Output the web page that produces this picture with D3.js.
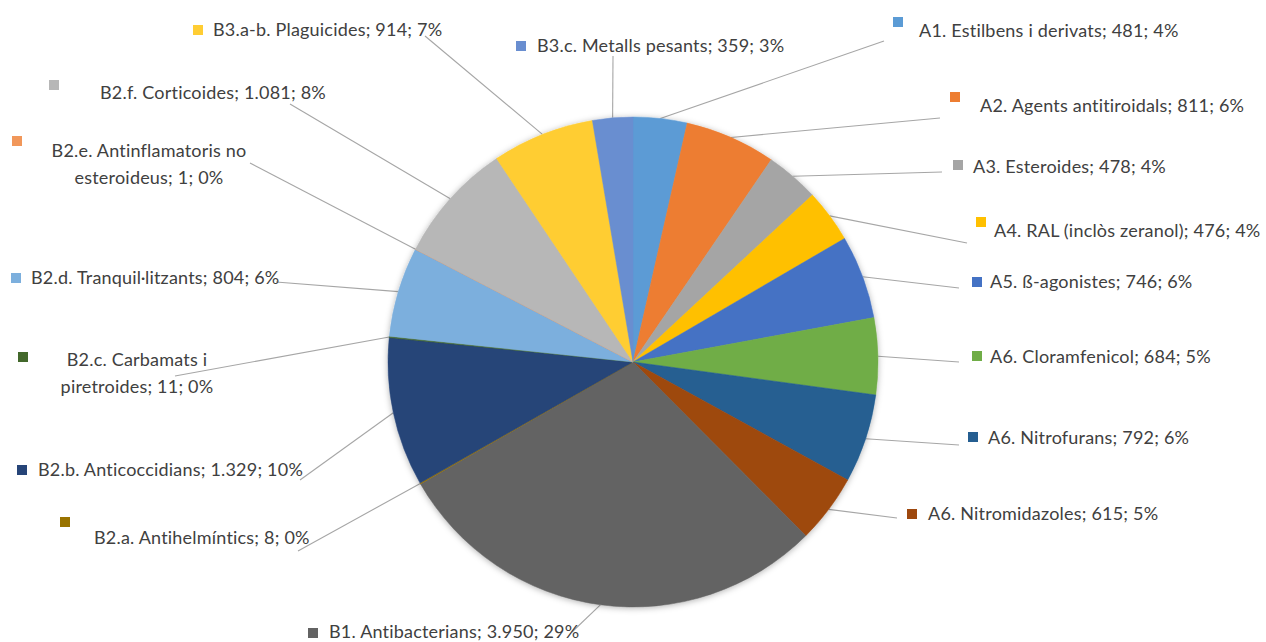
<!DOCTYPE html>
<html>
<head>
<meta charset="utf-8">
<script src="https://cdn.jsdelivr.net/npm/d3@7"></script>
<style>
  html, body { margin: 0; padding: 0; background: #fff; }
  svg text { font-family: Lato, "Open Sans", sans-serif; fill: #404040; letter-spacing: 0.2px; }
</style>
</head>
<body>
<div id="chart"></div>
<script>
// categories, clockwise from 12 o'clock
var categories = [
  "A1. Estilbens i derivats",
  "A2. Agents antitiroidals",
  "A3. Esteroides",
  "A4. RAL (inclòs zeranol)",
  "A5. ß-agonistes",
  "A6. Cloramfenicol",
  "A6. Nitrofurans",
  "A6. Nitromidazoles",
  "B1. Antibacterians",
  "B2.a. Antihelmíntics",
  "B2.b. Anticoccidians",
  "B2.c. Carbamats i|piretroides",
  "B2.d. Tranquil·litzants",
  "B2.e. Antinflamatoris no|esteroideus",
  "B2.f. Corticoides",
  "B3.a-b. Plaguicides",
  "B3.c. Metalls pesants"
];
var values = [481, 811, 478, 476, 746, 684, 792, 615, 3950, 8, 1329, 11, 804, 1, 1081, 914, 359];
var colors = ["#5B9BD5", "#ED7D31", "#A5A5A5", "#FFC000", "#4472C4", "#70AD47", "#255E91", "#9E480E",
              "#636363", "#997300", "#264478", "#43682B", "#7CAFDD", "#F1975A", "#B7B7B7", "#FFCD33", "#698ED0"];

// label placement (layout only): text x / centre y, marker centre, leader end, text anchor
var labelLayout = [
  {tx: 919, ty: 31,  mx: 898, my: 22,  ex: 884, ey: 41,  anchor: "start"},
  {tx: 980, ty: 106, mx: 955, my: 97,  ex: 940, ey: 118, anchor: "start"},
  {tx: 973, ty: 167, mx: 958, my: 165, ex: 942, ey: 172, anchor: "start"},
  {tx: 994, ty: 231, mx: 981, my: 222, ex: 967, ey: 243, anchor: "start"},
  {tx: 990, ty: 282, mx: 977, my: 282, ex: 959, ey: 288, anchor: "start"},
  {tx: 990, ty: 357, mx: 977, my: 356, ex: 959, ey: 362, anchor: "start"},
  {tx: 988, ty: 438, mx: 973, my: 437, ex: 959, ey: 445, anchor: "start"},
  {tx: 928, ty: 514, mx: 912, my: 514, ex: 897, ey: 518, anchor: "start"},
  {tx: 329, ty: 632, mx: 313, my: 633, ex: 572, ey: 632, anchor: "start"},
  {tx: 94,  ty: 538, mx: 65,  my: 522, ex: 298, ey: 551, anchor: "start"},
  {tx: 38,  ty: 470, mx: 22,  my: 470, ex: 300, ey: 480, anchor: "start"},
  {tx: 137, ty: 360, mx: 23,  my: 357, ex: 175, ey: 376, anchor: "middle"},
  {tx: 31,  ty: 278, mx: 16,  my: 278, ex: 276, ey: 282, anchor: "start"},
  {tx: 149, ty: 151, mx: 17,  my: 141, ex: 250, ey: 163, anchor: "middle"},
  {tx: 100, ty: 93,  mx: 54,  my: 85,  ex: 290, ey: 104, anchor: "start"},
  {tx: 213, ty: 30,  mx: 198, my: 30,  ex: 425, ey: 36,  anchor: "start"},
  {tx: 537, ty: 46,  mx: 521, my: 46,  ex: 613, ey: 56,  anchor: "start"}
];

var width = 1266, height = 642,
    cx = 633, cy = 362, radius = 245,
    fontSize = 18, lineGap = 27;

var total = d3.sum(values);
var numFmt = d3.formatLocale({decimal: ",", thousands: ".", grouping: [3], currency: ["", "€"]}).format(",d");

var data = categories.map(function(c, i) {
  return {name: c, value: values[i], color: colors[i], layout: labelLayout[i]};
});

var svg = d3.select("#chart").append("svg")
    .attr("width", width)
    .attr("height", height);

var defs = svg.append("defs");
var shadow = defs.append("filter").attr("id", "pieShadow")
    .attr("x", "-10%").attr("y", "-10%").attr("width", "120%").attr("height", "120%");
shadow.append("feDropShadow")
    .attr("dx", 0).attr("dy", 1).attr("stdDeviation", 3)
    .attr("flood-color", "#000").attr("flood-opacity", 0.3);

var pie = d3.pie().sort(null).value(function(d) { return d.value; });
var arc = d3.arc().innerRadius(0).outerRadius(radius);
var arcs = pie(data);

// leader lines first so the pie sits over them
var lines = svg.append("g").attr("class", "leaders");
lines.selectAll("polyline")
    .data(arcs)
    .enter()
    .append("polyline")
    .attr("points", function(d) {
      var a = (d.startAngle + d.endAngle) / 2;
      var sx = cx + radius * Math.sin(a), sy = cy - radius * Math.cos(a);
      return [[sx, sy], [d.data.layout.ex, d.data.layout.ey]].join(" ");
    })
    .style("fill", "none")
    .style("stroke", "#a6a6a6")
    .style("stroke-width", 1.1);

var g = svg.append("g")
    .attr("transform", "translate(" + cx + "," + cy + ")")
    .attr("filter", "url(#pieShadow)");

g.selectAll("path")
    .data(arcs)
    .enter()
    .append("path")
    .attr("d", arc)
    .style("fill", function(d) { return d.data.color; })
    .style("stroke", function(d) { return d.data.color; })
    .style("stroke-width", 0.5);

var labels = svg.append("g").attr("class", "labels");

labels.selectAll("rect")
    .data(arcs)
    .enter()
    .append("rect")
    .attr("x", function(d) { return d.data.layout.mx - 5; })
    .attr("y", function(d) { return d.data.layout.my - 5; })
    .attr("width", 10)
    .attr("height", 10)
    .style("fill", function(d) { return d.data.color; });

labels.selectAll("text")
    .data(arcs)
    .enter()
    .append("text")
    .attr("text-anchor", function(d) { return d.data.layout.anchor; })
    .style("font-size", fontSize + "px")
    .each(function(d) {
      var parts = d.data.name.split("|");
      var tail = "; " + numFmt(d.data.value) + "; " + Math.round(d.data.value / total * 100) + "%";
      parts[parts.length - 1] += tail;
      var t = d3.select(this);
      parts.forEach(function(p, i) {
        t.append("tspan")
          .attr("x", d.data.layout.tx)
          .attr("y", d.data.layout.ty + 6 + i * lineGap)
          .text(p);
      });
    });
</script>
</body>
</html>
